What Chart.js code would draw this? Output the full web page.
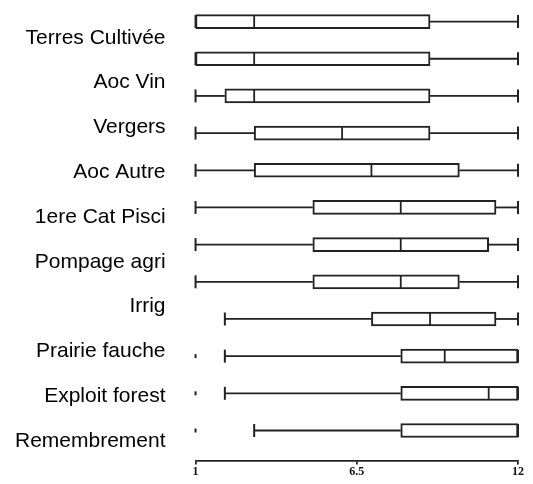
<!DOCTYPE html>
<html><head><meta charset="utf-8">
<script src="https://cdn.jsdelivr.net/npm/chart.js@4/dist/chart.umd.min.js"></script>
<style>html,body{margin:0;padding:0;background:#fff}#wrap{width:533px;height:484px}</style>
</head><body><div id="wrap"><canvas id="c" width="533" height="484"></canvas></div>
<script>
// Category labels shown on the left (10 labels)
const categories = ["Terres Cultivée","Aoc Vin","Vergers","Aoc Autre","1ere Cat Pisci","Pompage agri","Irrig","Prairie fauche","Exploit forest","Remembrement"];
// Box plots drawn (12 boxes, top to bottom)
const boxIndex   = [0, 1, 2, 3, 4, 5, 6, 7, 8, 9, 10, 11];
const whiskerLow = [1, 1, 1, 1, 1, 1, 1, 1, 2, 2, 2, 3];
const q1s        = [1, 1, 2, 3, 3, 5, 5, 5, 7, 8, 8, 8];
const medians    = [3, 3, 3, 6, 7, 8, 8, 8, 9, 9.5, 11, 12];
const q3s        = [9, 9, 9, 9, 10, 11.25, 11, 10, 11.25, 12, 12, 12];
const whiskerHigh= [12, 12, 12, 12, 12, 12, 12, 12, 12, 12, 12, 12];
const outlierBox = [9, 10, 11];
const outlierVal = [1, 1, 1];
// x axis ticks
const xTicks = [1, 6.5, 12];
const xTickLabels = ["1", "6.5", "12"];

const LINE = '#222222';

const boxPlotParts = {
  id: 'boxPlotParts',
  afterDatasetsDraw(chart) {
    const {ctx} = chart;
    const x = chart.scales.x, y = chart.scales.y;
    const half = 6.5;
    ctx.save();
    ctx.strokeStyle = LINE;
    const seg = (x1, y1, x2, y2, w) => { ctx.lineWidth = w; ctx.beginPath(); ctx.moveTo(x1, y1); ctx.lineTo(x2, y2); ctx.stroke(); };
    boxIndex.forEach(i => {
      const cy = y.getPixelForValue(i);
      const xl = x.getPixelForValue(whiskerLow[i]);
      const xa = x.getPixelForValue(q1s[i]);
      const xm = x.getPixelForValue(medians[i]);
      const xb = x.getPixelForValue(q3s[i]);
      const xh = x.getPixelForValue(whiskerHigh[i]);
      if (xa > xl) seg(xl, cy, xa, cy, 1.8);
      if (xh > xb) seg(xb, cy, xh, cy, 1.8);
      seg(xl, cy - half, xl, cy + half, 2);
      seg(xh, cy - half, xh, cy + half, 2);
      seg(xm, cy - half, xm, cy + half, 1.8);
    });
    outlierBox.forEach((b, k) => {
      const cy = y.getPixelForValue(b);
      const ox = x.getPixelForValue(outlierVal[k]);
      seg(ox, cy - 2, ox, cy + 2, 2);
    });
    ctx.restore();
  }
};

new Chart(document.getElementById('c'), {
  type: 'bar',
  data: {
    datasets: [{
      data: boxIndex.map(i => ({y: i, x: [q1s[i], q3s[i]]})),
      backgroundColor: '#ffffff',
      borderColor: LINE,
      borderWidth: 2,
      borderSkipped: false,
      barThickness: 14,
      xAxisID: 'x',
      yAxisID: 'y'
    }]
  },
  options: {
    indexAxis: 'y',
    responsive: false,
    animation: false,
    layout: {padding: {left: 15, right: 15, top: 3, bottom: 5}},
    plugins: {legend: {display: false}, tooltip: {enabled: false}},
    scales: {
      x: {
        type: 'linear', position: 'bottom', min: 1, max: 12, offset: false,
        afterBuildTicks: s => { s.ticks = xTicks.map(v => ({value: v})); },
        ticks: {
          autoSkip: false, maxRotation: 0, padding: 0,
          callback: v => xTickLabels[xTicks.indexOf(v)],
          font: {family: '"Liberation Serif", "DejaVu Serif", serif', size: 12, weight: 'bold'},
          color: '#111'
        },
        grid: {offset: false, drawOnChartArea: false, drawTicks: true, tickLength: 4, color: LINE, lineWidth: 1.8},
        border: {display: true, color: LINE, width: 1.8}
      },
      y: {
        type: 'linear', reverse: true, min: -0.5, max: 11.81, offset: false, display: false
      },
      yl: {
        type: 'linear', position: 'left', reverse: true, min: -0.775, max: 9.435, offset: false,
        afterBuildTicks: s => { s.ticks = categories.map((_, k) => ({value: k})); },
        ticks: {
          autoSkip: false, padding: 0,
          callback: v => categories[v],
          font: {family: '"Liberation Sans", Arial, sans-serif', size: 21, lineHeight: 0.25},
          color: '#000'
        },
        grid: {offset: false, display: true, drawOnChartArea: false, drawTicks: true, tickLength: 30, color: 'rgba(0,0,0,0)'},
        border: {display: false}
      }
    }
  },
  plugins: [boxPlotParts]
});
</script>
</body></html>
